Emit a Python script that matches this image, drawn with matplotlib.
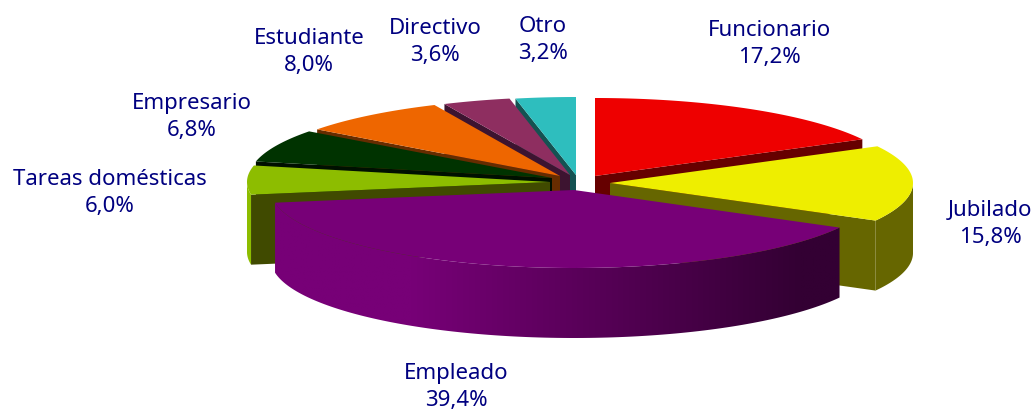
import numpy as np
from matplotlib import pyplot as plt
from matplotlib.colors import to_rgb
from matplotlib.patches import Polygon

labels = ["Funcionario", "Jubilado", "Empleado", "Tareas domésticas",
          "Empresario", "Estudiante", "Directivo", "Otro"]
values = [17.2, 15.8, 39.4, 6.0, 6.8, 8.0, 3.6, 3.2]

top_colors = ["#EE0000", "#EEEE00", "#770077", "#8DBD00", "#003300", "#EE6600", "#8E2E60", "#2EBEBE"]
side_colors = ["#660000", "#666600", "#330033", "#404A00", "#001000", "#662C00", "#3D1430", "#145252"]
wall_colors = ["#660000", "#666600", "#330033", "#8DBD00", "#001000", "#662C00", "#3D1430", "#145252"]

# exploded centres of the slices, in pixels
centers = [(595, 176), (610, 183), (574, 190), (550, 182), (552, 178), (560, 176), (570, 175), (576, 175)]
label_pos = [(769, 44), (990, 224), (456, 387), (110, 193), (192, 117), (309, 52), (435, 42), (543, 40)]
draw_order = [7, 6, 5, 4, 3, 0, 1, 2]

A = 303
B = 78
DEPTH = 70
TEXT_COLOR = "#000080"
GRADIENT_SLICE = 2


def arc(cx, cy, t0, t1, n=120):
    t = np.linspace(t0, t1, n)
    return cx + A * np.sin(t), cy - B * np.cos(t)


fig = plt.figure(figsize=(10.35, 4.12), dpi=100)
ax = fig.add_axes([0, 0, 1, 1])

edges = np.radians(np.concatenate([[0], np.cumsum(values)]) * 3.6)

for z, i in enumerate(draw_order):
    cx, cy = centers[i]
    t0, t1 = edges[i], edges[i + 1]
    x, y = arc(cx, cy, t0, t1)

    # only the part of the rim that faces the viewer
    f0, f1 = max(t0, np.pi / 2), min(t1, 3 * np.pi / 2)
    if f1 > f0:
        wx, wy = arc(cx, cy, f0, f1)
        rim = np.column_stack([np.r_[wx, wx[::-1]], np.r_[wy, wy[::-1] + DEPTH]])
        if i == GRADIENT_SLICE:
            u = np.linspace(0, 1, 400)
            f = np.clip(u * 1.45 - 0.35, 0, 1)[:, None]
            c0 = np.array(to_rgb(top_colors[i]))
            c1 = np.array(to_rgb(wall_colors[i]))
            img = (c1 * f + c0 * (1 - f))[None, :, :]
            im = ax.imshow(img, extent=(wx.min(), wx.max(), wy.max() + DEPTH, wy.min()),
                           aspect="auto", interpolation="bilinear", zorder=z + 1)
            im.set_clip_path(Polygon(rim, transform=ax.transData))
        else:
            ax.fill(rim[:, 0], rim[:, 1], color=wall_colors[i], lw=0, zorder=z + 1)

    # flat cut walls, only the visible one matters but the next slices cover the rest
    if i != GRADIENT_SLICE:
        t = t1 if t1 <= np.pi else t0
        ex, ey = arc(cx, cy, t, t, 1)
        ax.fill([cx, ex[0], ex[0], cx], [cy, ey[0], ey[0] + DEPTH, cy + DEPTH],
                color=side_colors[i], lw=0, zorder=z + 1)

    ax.fill(np.r_[cx, x], np.r_[cy, y], color=top_colors[i], lw=0, zorder=z + 1)

ax.set_xlim(0, 1035)
ax.set_ylim(412, 0)
ax.axis("off")

for name, v, (lx, ly) in zip(labels, values, label_pos):
    txt = name + "\n" + f"{v:.1f}%".replace(".", ",")
    ax.text(lx, ly, txt, ha="center", va="center", color=TEXT_COLOR,
            fontsize=16, family="Noto Sans", linespacing=1.42, zorder=20)

fig.savefig("out.png", dpi=100)
